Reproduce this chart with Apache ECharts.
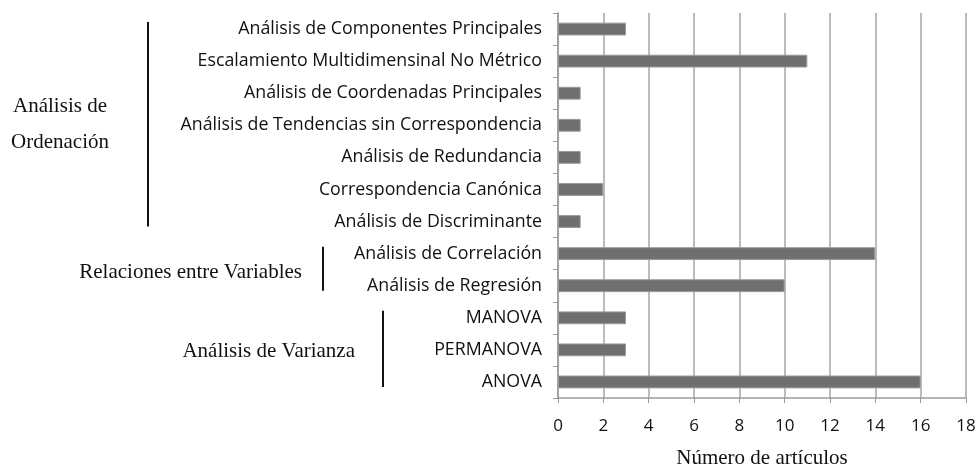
<!DOCTYPE html>
<html><head><meta charset="utf-8">
<script src="https://cdn.jsdelivr.net/npm/echarts@6/dist/echarts.min.js"></script>
<style>html,body{margin:0;padding:0;background:#fff}#c{width:978px;height:469px}</style>
</head><body><div id="c"></div>
<script>
const categories = [
  "Análisis de Componentes Principales",
  "Escalamiento Multidimensinal No Métrico",
  "Análisis de Coordenadas Principales",
  "Análisis de Tendencias sin Correspondencia",
  "Análisis de Redundancia",
  "Correspondencia Canónica",
  "Análisis de Discriminante",
  "Análisis de Correlación",
  "Análisis de Regresión",
  "MANOVA",
  "PERMANOVA",
  "ANOVA"
];
const values = [3, 11, 1, 1, 1, 2, 1, 14, 10, 3, 3, 16];
const xTicks = [0, 2, 4, 6, 8, 10, 12, 14, 16, 18];
const groups = [
  { name: "Análisis de\nOrdenación", from: 0, to: 6 },
  { name: "Relaciones entre Variables", from: 7, to: 8 },
  { name: "Análisis de Varianza", from: 9, to: 11 }
];
const xTitle = "Número de artículos";

const chart = echarts.init(document.getElementById('c'));
const labelFont = "Open Sans";
chart.setOption({
  animation: false,
  grid: { left: 558, right: 12, top: 13, bottom: 71, containLabel: false, outerBoundsMode: 'none' },
  xAxis: {
    type: 'value', min: xTicks[0], max: xTicks[xTicks.length - 1], interval: 2,
    name: xTitle, nameLocation: 'middle', nameGap: 50,
    nameTextStyle: { fontFamily: 'Liberation Serif', fontSize: 21, color: '#111' },
    axisLine: { show: true, lineStyle: { color: '#9a9a9a', width: 1.5 } },
    axisTick: { show: true, length: 5, lineStyle: { color: '#9a9a9a' } },
    axisLabel: { fontFamily: labelFont, fontSize: 17, color: '#111', margin: 20 },
    splitLine: { show: true, lineStyle: { color: '#a6a6a6', width: 1.5 } }
  },
  yAxis: {
    type: 'category', data: categories, inverse: true,
    axisLine: { show: true, lineStyle: { color: '#9a9a9a', width: 1.5 } },
    axisTick: { show: true, length: 5, lineStyle: { color: '#9a9a9a' } },
    axisLabel: { fontFamily: labelFont, fontSize: 17.8, color: '#111', margin: 16 }
  },
  series: [{
    type: 'bar', data: values, barWidth: '40%',
    itemStyle: { color: '#6f6f6f', borderColor: '#9a9a9a', borderWidth: 1 }
  }]
});

// group annotations placed relative to category positions
const lineX = [148, 323, 383];
const textPos = [
  { x: 60, align: 'center', dy: -1 },
  { x: 302, align: 'right', dy: 3 },
  { x: 355, align: 'right', dy: 2 }
];
const elements = [];
groups.forEach((g, i) => {
  const y0 = chart.convertToPixel({ yAxisIndex: 0 }, categories[g.from]);
  const y1 = chart.convertToPixel({ yAxisIndex: 0 }, categories[g.to]);
  elements.push({
    type: 'line',
    shape: { x1: lineX[i], y1: y0 - 7, x2: lineX[i], y2: y1 + 5 },
    style: { stroke: '#111', lineWidth: 2 }
  });
  elements.push({
    type: 'text',
    x: textPos[i].x, y: (y0 + y1) / 2 + textPos[i].dy,
    style: {
      text: g.name, fontFamily: 'Liberation Serif', fontSize: 21, fill: '#111',
      align: textPos[i].align, verticalAlign: 'middle', lineHeight: 36
    }
  });
});
chart.setOption({ graphic: elements });
</script>
</body></html>
